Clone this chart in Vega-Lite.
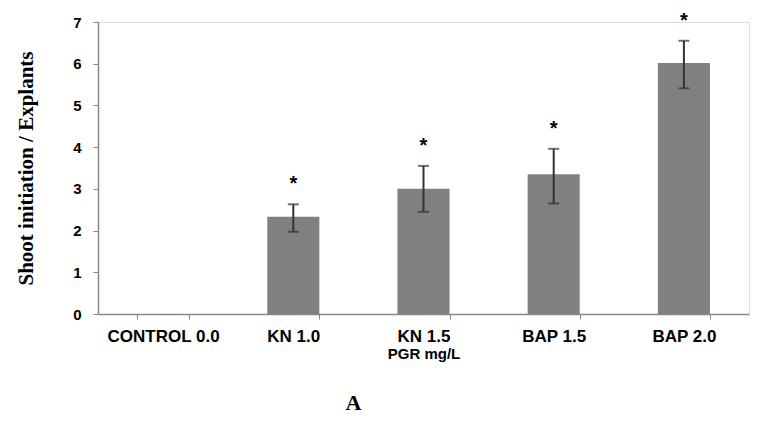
{
  "$schema": "https://vega.github.io/schema/vega-lite/v6.json",
  "autosize": {"type": "none"},
  "width": 651,
  "height": 292,
  "padding": {"left": 98, "top": 22, "right": 23, "bottom": 134},
  "background": "white",
  "title": {
    "text": "A",
    "orient": "bottom",
    "anchor": "middle",
    "dx": -70,
    "offset": 32,
    "font": "Liberation Serif",
    "fontSize": 22,
    "fontWeight": "bold",
    "color": "black"
  },
  "data": {
    "values": [
      {"treatment": "CONTROL 0.0", "mean": 0, "low": null, "high": null, "sig": ""},
      {"treatment": "KN 1.0", "mean": 2.33, "low": 1.97, "high": 2.63, "sig": "*"},
      {"treatment": "KN 1.5", "mean": 3.0, "low": 2.45, "high": 3.55, "sig": "*"},
      {"treatment": "BAP 1.5", "mean": 3.35, "low": 2.65, "high": 3.96, "sig": "*"},
      {"treatment": "BAP 2.0", "mean": 6.02, "low": 5.41, "high": 6.55, "sig": "*"}
    ]
  },
  "encoding": {
    "x": {
      "field": "treatment",
      "type": "nominal",
      "sort": null,
      "scale": {"paddingInner": 0.6, "paddingOuter": 0.3},
      "axis": {
        "title": "PGR mg/L",
        "titleFont": "Liberation Sans",
        "titleFontSize": 15,
        "titleFontWeight": "bold",
        "titleColor": "black",
        "titlePadding": 2,
        "labelAngle": 0,
        "labelFont": "Liberation Sans",
        "labelFontSize": 17,
        "labelFontWeight": "bold",
        "labelColor": "black",
        "labelPadding": 9,
        "tickBand": "extent",
        "tickSize": 5,
        "tickColor": "#888888",
        "domainColor": "#888888",
        "domainWidth": 1.5
      }
    }
  },
  "layer": [
    {
      "mark": {"type": "bar", "color": "#808080"},
      "encoding": {
        "y": {
          "field": "mean",
          "type": "quantitative",
          "scale": {"domain": [0, 7], "nice": false},
          "axis": {
            "values": [0, 1, 2, 3, 4, 5, 6, 7],
            "grid": false,
            "title": "Shoot initiation / Explants",
            "titleFont": "Liberation Serif",
            "titleFontSize": 21,
            "titleFontWeight": "bold",
            "titleColor": "black",
            "titlePadding": 36,
            "labelFont": "Liberation Sans",
            "labelFontSize": 15,
            "labelFontWeight": "bold",
            "labelColor": "black",
            "labelPadding": 12,
            "tickSize": 5,
            "tickColor": "#888888",
            "domainColor": "#888888",
            "domainWidth": 1.5
          }
        }
      }
    },
    {
      "transform": [{"filter": "datum.high != null"}],
      "mark": {"type": "rule", "color": "#333333", "strokeWidth": 2},
      "encoding": {
        "y": {"field": "low", "type": "quantitative"},
        "y2": {"field": "high"}
      }
    },
    {
      "transform": [{"filter": "datum.high != null"}],
      "mark": {"type": "tick", "color": "#333333", "size": 11, "thickness": 2},
      "encoding": {"y": {"field": "low", "type": "quantitative"}}
    },
    {
      "transform": [{"filter": "datum.high != null"}],
      "mark": {"type": "tick", "color": "#333333", "size": 11, "thickness": 2},
      "encoding": {"y": {"field": "high", "type": "quantitative"}}
    },
    {
      "mark": {"type": "text", "font": "Liberation Sans", "fontSize": 20, "fontWeight": "bold", "color": "black", "dy": -20, "baseline": "middle"},
      "encoding": {
        "y": {"field": "high", "type": "quantitative"},
        "text": {"field": "sig"}
      }
    }
  ]
}
